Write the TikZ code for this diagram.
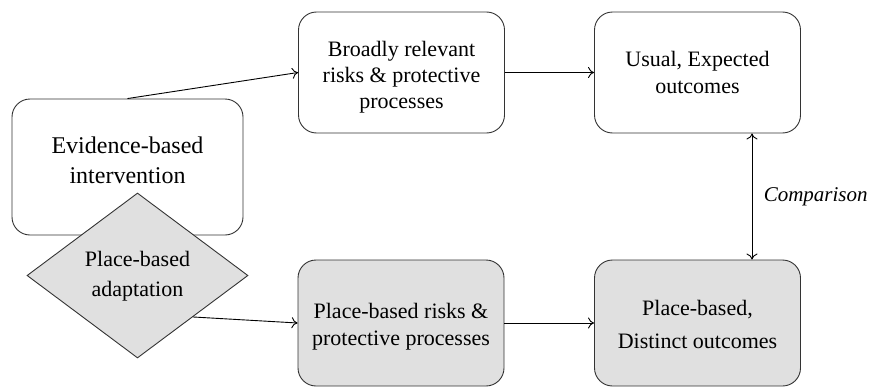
\documentclass[tikz,border=0pt]{standalone}
\usepackage{fontspec}
\setmainfont{Liberation Serif}
\usetikzlibrary{shapes.geometric,arrows.meta}
\definecolor{placegray}{RGB}{224,224,224}
\begin{document}
\begin{tikzpicture}[x=1pt,y=-1pt,
  box/.style={draw=black!80,line width=0.9pt,rounded corners=18pt,
    minimum width=206pt,minimum height=121pt,inner sep=0pt},
  placebox/.style={box,fill=placegray,minimum height=126pt},
  adapt/.style={draw=black!80,line width=0.9pt,fill=placegray,diamond,
    minimum width=221pt,minimum height=165pt,inner sep=0pt},
  txt/.style={align=center,inner sep=0pt,font=\fontsize{22}{26}\selectfont},
  link/.style={line width=0.9pt,-{To[length=6pt,width=11pt]}},
  twoway/.style={line width=0.9pt,{To[length=6pt,width=11pt]}-{To[length=6pt,width=11pt]}}
]
\useasboundingbox (0,0) rectangle (870,388);

% boxes
\node[box,minimum width=231pt,minimum height=136pt] (ev) at (127.5,167) {};
\node[box] (broad) at (401.5,72.5) {};
\node[box] (usual) at (697.5,72.5) {};
\node[placebox] (pr) at (401,323) {};
\node[placebox] (dist) at (697.5,323) {};
\node[adapt] (dia) at (137.5,275.5) {};

% box texts
\node[txt,font=\fontsize{24}{30}\selectfont] (evT) at ([yshift=7pt]ev.center) {Evidence-based\\intervention};
\node[txt] (broadT) at ([yshift=-5pt]broad.center) {Broadly relevant\\risks \& protective\\processes};
\node[txt,font=\fontsize{22}{27}\selectfont] (usualT) at ([yshift=0pt]usual.center) {Usual, Expected\\outcomes};
\node[txt,font=\fontsize{22}{27}\selectfont] (prT) at ([yshift=-4pt]pr.center) {Place-based risks \&\\protective processes};
\node[txt,font=\fontsize{22}{33}\selectfont] (distT) at ([yshift=-1pt]dist.center) {Place-based,\\Distinct outcomes};
\node[txt,font=\fontsize{22}{30}\selectfont] (diaT) at ([yshift=-1pt]dia.center) {Place-based\\adaptation};

\coordinate (cx) at (752,0);

% connectors
\draw[link] (ev.north) -- (broad.west);
\draw[link] (broad.east) -- (usual.west);
\draw[link] (dia.south east) -- (pr.west);
\draw[link] (pr.east) -- (dist.west);
\draw[twoway] (usual.south -| cx) -- node[right=8pt,font=\fontsize{21}{24}\selectfont\itshape] (cmp) {Comparison} (dist.north -| cx);
\end{tikzpicture}
\end{document}
